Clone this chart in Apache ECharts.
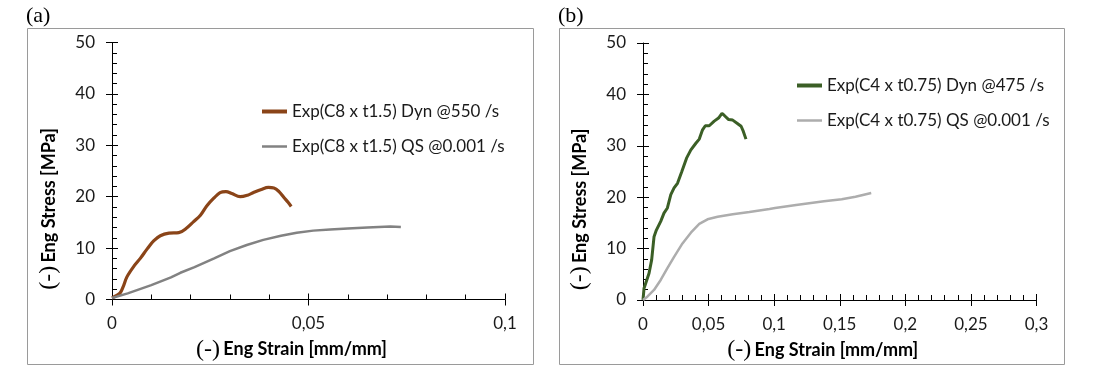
<!DOCTYPE html>
<html>
<head>
<meta charset="utf-8">
<script src="https://cdn.jsdelivr.net/npm/echarts@6.0.0/dist/echarts.min.js"></script>
<style>
html,body{margin:0;padding:0;background:#fff;}
#c{width:1100px;height:371px;}
</style>
</head>
<body>
<div id="c"></div>
<script>
// ---- data (strain [mm/mm], stress [MPa]) ----
var dynA = [[0,0.3],[0.0012,0.8],[0.0021,1.3],[0.0028,2.4],[0.0038,4.4],[0.0055,6.4],[0.0072,8.0],[0.009,9.9],[0.0106,11.4],[0.0123,12.4],[0.0145,12.9],[0.017,13.0],[0.019,13.9],[0.0207,15.1],[0.0225,16.4],[0.0241,18.2],[0.0259,19.7],[0.0275,20.8],[0.029,21.0],[0.0305,20.6],[0.0326,20.0],[0.0345,20.3],[0.036,20.8],[0.038,21.4],[0.0398,21.8],[0.0412,21.7],[0.0425,21.0],[0.0438,19.8],[0.0448,18.9],[0.0456,18.1]];
var qsA = [[0,0.3],[0.004,1.2],[0.01,2.8],[0.015,4.3],[0.0174,5.2],[0.021,6.3],[0.026,8.0],[0.03,9.4],[0.0343,10.6],[0.0385,11.6],[0.043,12.4],[0.047,13.0],[0.0512,13.4],[0.0555,13.6],[0.06,13.8],[0.065,14.0],[0.0708,14.2],[0.0735,14.1]];
var dynB = [[0,0],[0.0008,2.3],[0.0046,5.2],[0.0066,7.8],[0.0084,12.3],[0.0102,13.6],[0.0135,15.3],[0.016,16.9],[0.0186,17.9],[0.0212,20.5],[0.0237,21.8],[0.0263,22.7],[0.0296,25.0],[0.0332,27.6],[0.0365,29.2],[0.0403,30.5],[0.0429,31.3],[0.0454,33.1],[0.0475,33.9],[0.0505,33.9],[0.0543,34.8],[0.0576,35.4],[0.0602,36.3],[0.062,35.9],[0.0653,35.1],[0.0684,35.0],[0.0722,34.3],[0.0748,33.8],[0.0765,32.8],[0.0785,31.3]];
var qsB = [[0,0],[0.0033,0.65],[0.0084,1.95],[0.0135,3.9],[0.0186,6.2],[0.0237,8.4],[0.0301,11.0],[0.0365,13.1],[0.0429,14.8],[0.0492,15.7],[0.0569,16.2],[0.0684,16.7],[0.0811,17.1],[0.0964,17.7],[0.1007,17.9],[0.1167,18.5],[0.138,19.2],[0.1515,19.6],[0.162,20.1],[0.174,20.8]];

var namesA = ['Exp(C8 x t1.5) Dyn @550 /s', 'Exp(C8 x t1.5) QS @0.001 /s'];
var namesB = ['Exp(C4 x t0.75) Dyn @475 /s', 'Exp(C4 x t0.75) QS @0.001 /s'];
var xTicksA = ['0', '0,05', '0,1'];
var xTicksB = ['0', '0,05', '0,1', '0,15', '0,2', '0,25', '0,3'];
var yTicks = ['0', '10', '20', '30', '40', '50'];
var panelLabels = ['(a)', '(b)'];
var xTitle = 'Eng Strain [mm/mm]';
var yTitle = 'Eng Stress [MPa]';

var chart = echarts.init(document.getElementById('c'), null, {renderer: 'canvas'});

var SANS = 'Lato';
var SERIF = 'Liberation Serif';
var rich = {
  p: {fontFamily: SERIF, fontSize: 24, color: '#000'},
  b: {fontFamily: SANS, fontWeight: 'bold', fontSize: 18, color: '#000'}
};
var THICK = 'path://M0,0H25V4H0Z';
var THIN = 'path://M0,0H25V2.5H0Z';

function xAxes(gridIndex, max, ticks) {
  var main = {
    type: 'value', gridIndex: gridIndex, position: 'bottom', min: 0, max: max, interval: 0.05,
    axisLine: {show: true, onZero: false, lineStyle: {color: '#000', width: 1}},
    axisTick: {show: true, inside: true, length: 6, lineStyle: {color: '#000'}},
    minorTick: {show: true, splitNumber: 5, length: 5, lineStyle: {color: '#000'}},
    splitLine: {show: false},
    axisLabel: {margin: 16, fontFamily: SANS, fontSize: 17, color: '#1a1a1a',
      formatter: function (v) { return ticks[Math.round(v / 0.05)]; }},
    name: '{p|(-)} {b|' + xTitle + '}', nameLocation: 'middle', nameGap: 36,
    nameTextStyle: {rich: rich, padding: [0, 34, 0, 0]}
  };
  var over = {
    type: 'value', gridIndex: gridIndex, position: 'bottom', offset: 0, min: 0, max: max, interval: 0.05,
    axisLine: {show: false}, axisLabel: {show: false}, splitLine: {show: false},
    axisTick: {show: true, inside: false, length: 6, lineStyle: {color: '#000'}}
  };
  return [main, over];
}
function yAxes(gridIndex) {
  var main = {
    type: 'value', gridIndex: gridIndex, position: 'left', min: 0, max: 50, interval: 10,
    axisLine: {show: true, onZero: false, lineStyle: {color: '#000', width: 1}},
    axisTick: {show: true, inside: true, length: 6, lineStyle: {color: '#000'}},
    minorTick: {show: true, splitNumber: 5, length: 5, lineStyle: {color: '#000'}},
    splitLine: {show: false},
    axisLabel: {margin: 17, fontFamily: SANS, fontSize: 17, color: '#1a1a1a',
      formatter: function (v) { return yTicks[Math.round(v / 10)]; }},
    name: '{p|(-)} {b|' + yTitle + '}', nameLocation: 'middle', nameGap: 51,
    nameTextStyle: {rich: rich, padding: [0, 76, 0, 0]}
  };
  var over = {
    type: 'value', gridIndex: gridIndex, position: 'left', offset: 0, min: 0, max: 50, interval: 10,
    axisLine: {show: false}, axisLabel: {show: false}, splitLine: {show: false},
    axisTick: {show: true, inside: false, length: 6, lineStyle: {color: '#000'}}
  };
  return [main, over];
}

var xa = xAxes(0, 0.1, xTicksA).concat(xAxes(1, 0.3, xTicksB));
var ya = yAxes(0).concat(yAxes(1));

function line(name, data, xi, yi, color, width, smooth) {
  return {
    type: 'line', name: name, data: data, xAxisIndex: xi, yAxisIndex: yi,
    showSymbol: false, symbol: 'none', smooth: smooth, animation: false,
    lineStyle: {color: color, width: width}, itemStyle: {color: color}
  };
}
function legend(names, left, top) {
  return {
    data: [{name: names[0], icon: THICK}, {name: names[1], icon: THIN}],
    orient: 'vertical', left: left, top: top, itemWidth: 25, itemHeight: 14, itemGap: 18, padding: 0,
    textStyle: {fontFamily: SANS, fontSize: 17, color: '#1a1a1a'}, selectedMode: false
  };
}

var option = {
  animation: false,
  backgroundColor: '#fff',
  title: [
    {text: panelLabels[0], left: 26, top: 5, padding: 0, textStyle: {fontFamily: SERIF, fontWeight: 'normal', fontSize: 22, color: '#000'}},
    {text: panelLabels[1], left: 558, top: 5, padding: 0, textStyle: {fontFamily: SERIF, fontWeight: 'normal', fontSize: 22, color: '#000'}}
  ],
  grid: [
    {left: 112, top: 42.5, width: 393, height: 257},
    {left: 643, top: 43, width: 393.5, height: 257}
  ],
  xAxis: xa,
  yAxis: ya,
  legend: [legend(namesA, 262, 103), legend(namesB, 797, 77)],
  graphic: [
    {type: 'rect', shape: {x: 27.5, y: 28.5, width: 506, height: 336}, style: {fill: 'none', stroke: '#9a9a9a', lineWidth: 1}, silent: true, z: -1},
    {type: 'rect', shape: {x: 559.5, y: 28.5, width: 505, height: 336}, style: {fill: 'none', stroke: '#9a9a9a', lineWidth: 1}, silent: true, z: -1}
  ],
  series: [
    line(namesA[0], dynA, 0, 0, '#8a4418', 3.2, 0.35),
    line(namesA[1], qsA, 0, 0, '#828282', 2.5, false),
    line(namesB[0], dynB, 2, 2, '#3b5f26', 3, false),
    line(namesB[1], qsB, 2, 2, '#adadad', 2.5, false)
  ]
};
chart.setOption(option);
</script>
</body>
</html>
